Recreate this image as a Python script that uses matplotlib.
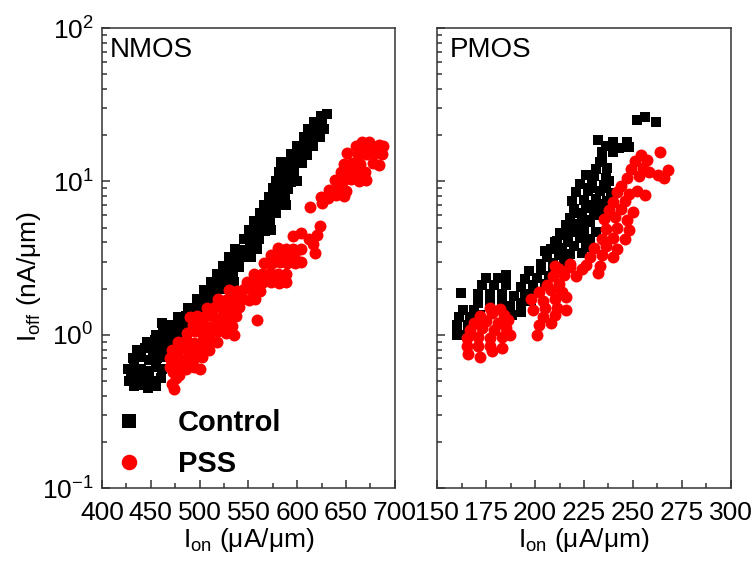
import numpy as np
import matplotlib
matplotlib.use('Agg')
import matplotlib.pyplot as plt
from matplotlib.ticker import MultipleLocator, LogLocator, NullFormatter

plt.rcParams['font.family'] = ['Liberation Sans', 'DejaVu Sans']
plt.rcParams['mathtext.default'] = 'regular'

# ---- NMOS, control (black squares) ----
nmos_ctrl = [
    (428, 0.50), (433, 0.46), (440, 0.47), (447, 0.45), (455, 0.46),
    (430, 0.55), (438, 0.53), (446, 0.52), (453, 0.50), (460, 0.52),
    (427, 0.60), (433, 0.62), (440, 0.60), (448, 0.58), (455, 0.62), (462, 0.60),
    (432, 0.70), (440, 0.72), (448, 0.68), (456, 0.70), (464, 0.72),
    (436, 0.80), (444, 0.82), (452, 0.80), (460, 0.78), (467, 0.80),
    (446, 0.90), (454, 0.92), (462, 0.88), (470, 0.90),
    (455, 1.00), (463, 1.02), (471, 1.00), (478, 0.98),
    (462, 1.20),
    (470, 1.15), (478, 1.12), (486, 1.15),
    (478, 1.30), (486, 1.32), (494, 1.28), (502, 1.30),
    (488, 1.50), (496, 1.48), (504, 1.52),
    (497, 1.70), (505, 1.68), (513, 1.72),
    (505, 1.95), (513, 1.92), (521, 1.98),
    (512, 2.20), (520, 2.18), (528, 2.22), (535, 2.20),
    (518, 2.50), (526, 2.48), (534, 2.52),
    (524, 2.80), (532, 2.82), (540, 2.78),
    (530, 3.20), (538, 3.18), (546, 3.22), (553, 3.20),
    (536, 3.60), (544, 3.58), (552, 3.62), (559, 3.60),
    (545, 4.20), (553, 4.18), (561, 4.22),
    (551, 4.80), (559, 4.82), (567, 4.78), (573, 4.80),
    (556, 5.50), (564, 5.48), (572, 5.52),
    (562, 6.20), (570, 6.18), (578, 6.22),
    (566, 7.00), (574, 7.02), (582, 6.98), (589, 7.00),
    (571, 7.90), (579, 7.88), (587, 7.92),
    (575, 9.00), (583, 9.02), (591, 8.98),
    (578, 10.0), (586, 10.2), (594, 9.9), (600, 10.1),
    (581, 11.5), (589, 11.4), (597, 11.6),
    (583, 13.3), (591, 13.2), (599, 13.4), (605, 13.2),
    (594, 15.0), (602, 15.2), (610, 14.9),
    (600, 17.0), (608, 17.2), (616, 16.9),
    (607, 19.5), (615, 19.3), (623, 19.6),
    (611, 22.0), (619, 22.3), (627, 21.8),
    (617, 24.5), (625, 24.2),
    (630, 27.5), (624, 26.5),
]

# ---- NMOS, PSS (red circles) ----
nmos_pss = [
    (474, 0.44), (472, 0.48), (476, 0.52), (473, 0.57), (479, 0.55),
    (470, 0.62), (478, 0.63), (486, 0.60), (494, 0.62), (500, 0.60),
    (470, 0.70), (478, 0.72), (486, 0.68), (494, 0.70), (502, 0.72),
    (472, 0.80), (480, 0.82), (488, 0.78), (496, 0.80), (504, 0.82), (510, 0.79),
    (478, 0.90), (486, 0.92), (494, 0.88), (502, 0.90), (510, 0.92), (518, 0.90),
    (487, 1.03), (495, 1.05), (503, 1.00), (511, 1.03), (519, 1.05), (527, 1.02), (535, 1.00),
    (493, 1.15), (501, 1.17), (509, 1.13), (517, 1.15), (525, 1.17), (533, 1.14),
    (490, 1.30), (497, 1.33), (505, 1.30), (513, 1.32), (521, 1.29), (529, 1.31), (537, 1.33),
    (559, 1.25),
    (508, 1.50), (516, 1.52), (524, 1.48), (532, 1.50), (540, 1.52),
    (519, 1.70), (527, 1.68), (535, 1.72), (543, 1.70), (551, 1.68), (557, 1.72),
    (530, 1.95), (538, 1.92), (546, 1.98), (554, 1.95), (562, 1.93),
    (549, 2.20), (557, 2.18), (565, 2.22), (573, 2.20), (581, 2.18), (589, 2.20),
    (556, 2.50), (564, 2.48), (572, 2.52), (580, 2.50), (588, 2.48),
    (566, 2.95), (574, 2.92), (582, 2.98), (590, 2.95), (598, 2.93), (604, 2.96),
    (573, 3.30), (581, 3.28), (589, 3.32), (597, 3.30),
    (580, 3.70), (588, 3.60), (596, 3.65), (604, 3.60), (618, 3.40),
    (596, 4.40), (604, 4.60), (612, 4.20), (620, 4.50), (616, 3.90), (623, 5.10),
    (613, 6.85), (625, 7.25),
    (624, 7.90), (632, 7.80), (640, 8.10), (648, 8.00),
    (633, 8.80), (641, 8.90), (650, 8.60),
    (639, 10.2), (647, 10.0), (655, 10.3), (663, 10.1), (670, 10.2),
    (645, 11.5), (653, 11.4), (661, 11.6), (669, 11.5),
    (648, 13.0), (656, 13.2), (664, 12.9), (678, 13.2), (684, 12.8),
    (651, 15.4), (662, 15.0), (670, 15.2), (680, 15.4), (687, 15.0),
    (660, 17.0), (668, 17.3), (676, 17.0), (684, 17.3), (688, 17.0),
    (666, 18.2), (674, 18.0),
]

# ---- PMOS, control (black squares) ----
pmos_ctrl = [
    (162, 1.88),
    (171, 1.60), (177, 1.60), (183, 1.60), (171, 1.85), (177, 1.85), (183, 1.85),
    (173, 2.10), (179, 2.10), (185, 2.10), (175, 2.35), (181, 2.35), (185, 2.45),
    (160, 1.00), (165, 1.00), (160, 1.15), (166, 1.15), (171, 1.20),
    (161, 1.30), (167, 1.30), (172, 1.35), (163, 1.45), (169, 1.45),
    (188, 1.35), (193, 1.40), (187, 1.55), (193, 1.60), (198, 1.65),
    (189, 1.80), (195, 1.85), (200, 1.90), (193, 2.05), (199, 2.10), (205, 2.15),
    (195, 2.30), (201, 2.35), (207, 2.40), (197, 2.60), (203, 2.65), (209, 2.70),
    (203, 2.90), (209, 2.95), (215, 3.00), (206, 3.20), (212, 3.30), (218, 3.35), (224, 3.40),
    (205, 3.50), (213, 3.45), (217, 4.00), (210, 4.00),
    (208, 3.60), (214, 3.70), (220, 3.80), (226, 3.75),
    (211, 4.10), (217, 4.20), (223, 4.30), (228, 4.20),
    (213, 4.60), (219, 4.70), (225, 4.80), (231, 4.70), (215, 4.50), (221, 5.00),
    (216, 5.20), (222, 5.30), (228, 5.40), (227, 5.60), (223, 6.20),
    (218, 5.80), (224, 5.90), (230, 6.00), (236, 6.00), (233, 6.30),
    (220, 6.60), (226, 6.70), (232, 6.80), (238, 6.60), (229, 7.00), (235, 7.10),
    (219, 7.50), (225, 7.60), (231, 7.70), (237, 7.50), (240, 7.90),
    (221, 8.50), (227, 8.60), (233, 8.70), (239, 8.40), (228, 9.00), (236, 9.00),
    (223, 9.60), (229, 9.80), (235, 9.50), (238, 10.0),
    (230, 10.8), (236, 10.6), (226, 11.0), (231, 12.0), (237, 12.2), (233, 13.3),
    (234, 14.0), (240, 15.5), (243, 16.5),
    (232, 18.5), (236, 17.0), (240, 18.0), (247, 18.2), (248, 16.8), (234, 15.5),
    (252, 25.0), (256, 26.4), (262, 24.4),
]

# ---- PMOS, PSS (red circles) ----
pmos_pss = [
    (166, 0.75), (172, 0.72), (178, 0.78), (165, 0.85), (171, 0.85), (177, 0.85), (183, 0.82),
    (165, 0.95), (171, 0.97), (177, 0.95), (183, 0.97), (187, 1.00),
    (167, 1.07), (173, 1.10), (179, 1.07), (185, 1.10),
    (169, 1.20), (175, 1.22), (181, 1.20), (186, 1.25),
    (172, 1.33), (178, 1.38), (184, 1.35), (177, 1.50), (182, 1.48),
    (201, 0.99),
    (202, 1.15), (208, 1.20), (204, 1.30), (210, 1.35),
    (199, 1.45), (205, 1.50), (211, 1.50), (216, 1.45),
    (198, 1.70), (204, 1.65), (210, 1.70), (216, 1.75),
    (202, 1.90), (208, 1.95), (214, 1.90), (206, 2.10), (212, 2.15),
    (209, 2.40), (215, 2.45), (221, 2.40), (212, 2.70), (218, 2.75), (224, 2.70),
    (232, 2.54),
    (210, 2.80), (218, 2.90), (226, 2.85), (233, 2.80),
    (228, 3.20), (234, 3.30), (240, 3.20), (230, 3.70), (236, 3.80), (242, 3.60),
    (234, 4.20), (240, 4.30), (246, 4.20), (236, 4.90), (242, 5.00), (248, 4.80),
    (235, 5.70), (241, 5.90), (247, 5.60), (238, 6.50), (244, 6.60), (250, 6.30),
    (240, 7.30), (246, 7.50), (242, 8.50), (248, 8.30), (244, 9.40),
    (252, 8.60), (256, 8.20),
    (247, 10.5), (253, 10.8), (249, 12.0), (255, 12.3), (251, 13.5), (257, 13.8), (254, 14.8),
    (258, 11.5), (263, 11.0), (268, 11.8), (266, 10.5),
    (264, 15.6),
]

panel_names = ['NMOS', 'PMOS']
xlims = [(400, 700), (150, 300)]
xmajor = [50, 25]
xminor = [25, 12.5]
ylim = (0.1, 100)

fig = plt.figure(figsize=(7.55, 5.61), dpi=100)
ax1 = fig.add_axes([0.135, 0.130, 0.388, 0.820])
ax2 = fig.add_axes([0.579, 0.130, 0.389, 0.820])
axes = [ax1, ax2]
series = [(nmos_ctrl, nmos_pss), (pmos_ctrl, pmos_pss)]

for i, ax in enumerate(axes):
    ctrl, pss = series[i]
    cx, cy = np.array(ctrl).T
    px, py = np.array(pss).T
    ax.plot(cx, cy, 's', color='black', markersize=7.4, markeredgewidth=0, label='Control')
    ax.plot(px, py, 'o', color='#ff0000', markersize=8.6, markeredgewidth=0, label='PSS')

    ax.set_yscale('log')
    ax.set_ylim(*ylim)
    ax.set_xlim(*xlims[i])
    ax.xaxis.set_major_locator(MultipleLocator(xmajor[i]))
    ax.xaxis.set_minor_locator(MultipleLocator(xminor[i]))
    ax.yaxis.set_minor_locator(LogLocator(base=10, subs=np.arange(2, 10)))
    ax.yaxis.set_minor_formatter(NullFormatter())
    ax.tick_params(which='both', direction='in', top=False, right=False,
                   labelsize=19, width=1.1, color='#333333')
    ax.tick_params(axis='x', pad=9)
    ax.tick_params(axis='y', pad=6)
    ax.tick_params(which='major', length=6)
    ax.tick_params(which='minor', length=3.5)
    for sp in ax.spines.values():
        sp.set_linewidth(1.1)
        sp.set_color('#333333')
    ax.text(0.028 if i == 0 else 0.042, 0.937, panel_names[i],
            transform=ax.transAxes, fontsize=20, va='baseline', ha='left')
    ax.set_xlabel('I$_{on}$ (μA/μm)', fontsize=19, labelpad=1)

ax2.tick_params(axis='y', labelleft=False)
ax1.set_ylabel('I$_{off}$ (nA/μm)', fontsize=19)
ax1.yaxis.set_label_coords(-0.2, 0.46)

leg = ax1.legend(loc='lower left', bbox_to_anchor=(0.041, 0.022), frameon=False,
                 borderpad=0, borderaxespad=0, handlelength=1.0, handletextpad=1.2,
                 labelspacing=0.45, markerscale=1.3,
                 prop={'size': 21, 'weight': 'bold'})

fig.savefig('out.png', dpi=100)
